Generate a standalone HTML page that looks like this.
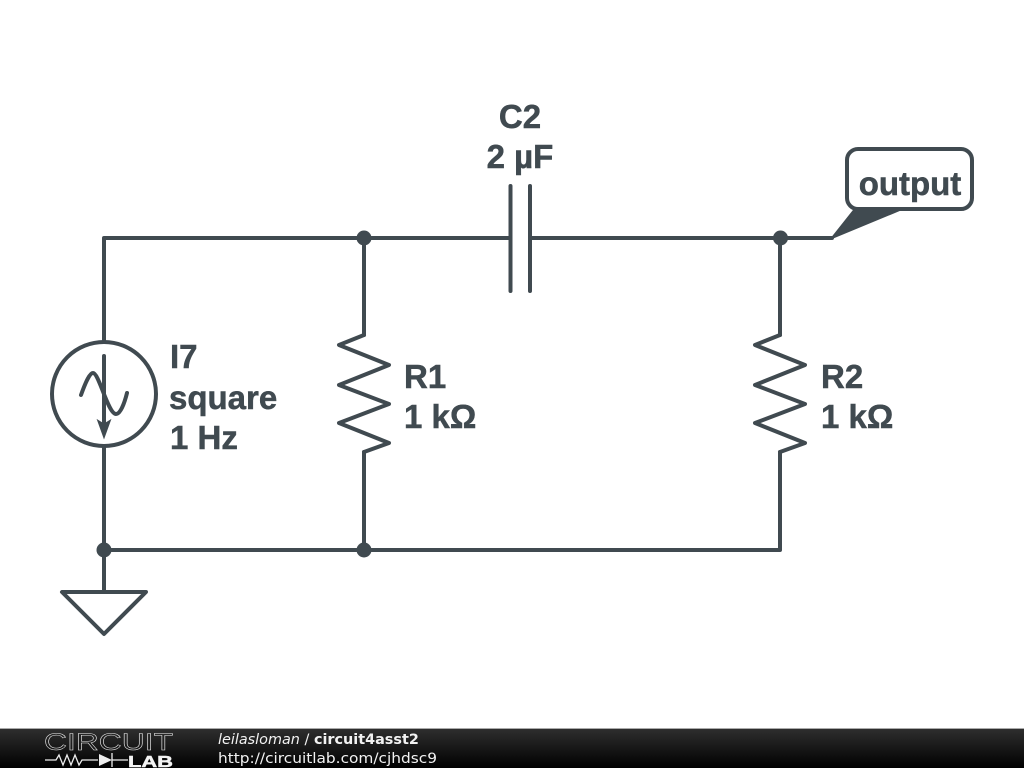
<!DOCTYPE html>
<html>
<head>
<meta charset="utf-8">
<style>
html,body{margin:0;padding:0;background:#fff;width:1024px;height:768px;overflow:hidden}
svg{display:block}
</style>
</head>
<body>
<svg width="1024" height="768" viewBox="0 0 1024 768" xmlns="http://www.w3.org/2000/svg">
<defs>
<linearGradient id="bar" x1="0" y1="0" x2="0" y2="1">
<stop offset="0" stop-color="#2e2e2e"/>
<stop offset="1" stop-color="#000"/>
</linearGradient>
</defs>
<rect width="1024" height="768" fill="#fff"/>
<g fill="none" stroke="#404a50" stroke-width="4" stroke-linecap="round" stroke-linejoin="round">
<path d="M104 342V238H510.5M530 238H832M104 446V592M104 550H780V452M780 238V335M364 238V335M364 452V550"/>
<path d="M510.5 186V291M530 186V291"/>
<path d="M364 335L339 345L389 365L339 385L389 404L339 423L389 443L364 452"/>
<path d="M780 335L755 345L805 365L755 385L805 404L755 423L805 443L780 452"/>
<circle cx="104" cy="394" r="52"/>
<path d="M104 356V422"/>
<path d="M81 395C86 381 90 373 93 373C99 373 108 414 116 414C120 414 124 405 127 393"/>
<path d="M62 592H146L104 634Z"/>
<rect x="847" y="149" width="125" height="60" rx="11"/>
</g>
<path d="M97.500 420L104 438L110.500 420L104 424Z" fill="#404a50" stroke="#404a50" stroke-width="1"/>
<path d="M832 238L855 209L902 209Z" fill="#404a50" stroke="#404a50" stroke-width="2" stroke-linejoin="round"/>
<g fill="#404a50">
<circle cx="364" cy="238" r="7.500"/>
<circle cx="780.500" cy="238" r="7.500"/>
<circle cx="104" cy="550" r="7.500"/>
<circle cx="364" cy="550" r="7.500"/>
</g>
<g fill="#404a50" stroke="#404a50" stroke-width="0.5" font-family="'Liberation Sans', sans-serif" font-weight="700" font-size="33">
<text x="520" y="128" text-anchor="middle">C2</text>
<text x="520" y="168" text-anchor="middle">2 µF</text>
<text x="170" y="368">I7</text>
<text x="169" y="409">square</text>
<text x="170" y="449">1 Hz</text>
<text x="404" y="388">R1</text>
<text x="404" y="428">1 kΩ</text>
<text x="821" y="388">R2</text>
<text x="821" y="428">1 kΩ</text>
<text x="910" y="195" text-anchor="middle">output</text>
</g>
<rect y="729" width="1024" height="39" fill="url(#bar)"/>
<rect y="728" width="1024" height="1" fill="#aaa"/>
<text x="44" y="750" font-family="'Liberation Sans', sans-serif" font-size="24" textLength="129" lengthAdjust="spacingAndGlyphs" fill="none" stroke="#e8e8e8" stroke-width="0.5">CIRCUIT</text>
<g fill="none" stroke="#eee" stroke-width="1.300">
<path d="M45 760H56L59 755L63 765L67 755L71 765L75 755L79 765L82 760H98M112 760H128M112 753V767"/>
</g>
<path d="M99 754L112 760L99 766Z" fill="#eee"/>
<text x="128" y="767" font-family="'Liberation Sans', sans-serif" font-weight="700" font-size="16" textLength="45" lengthAdjust="spacingAndGlyphs" fill="#f4f4f4" stroke="#f4f4f4" stroke-width="0.5">LAB</text>
<g font-family="'DejaVu Sans', sans-serif" font-size="14.400" fill="#f2f2f2">
<text x="218" y="744"><tspan font-style="italic">leilasloman</tspan> / <tspan font-weight="700">circuit4asst2</tspan></text>
<text x="218" y="763" textLength="219" lengthAdjust="spacingAndGlyphs">http://circuitlab.com/cjhdsc9</text>
</g>
</svg>
</body>
</html>
